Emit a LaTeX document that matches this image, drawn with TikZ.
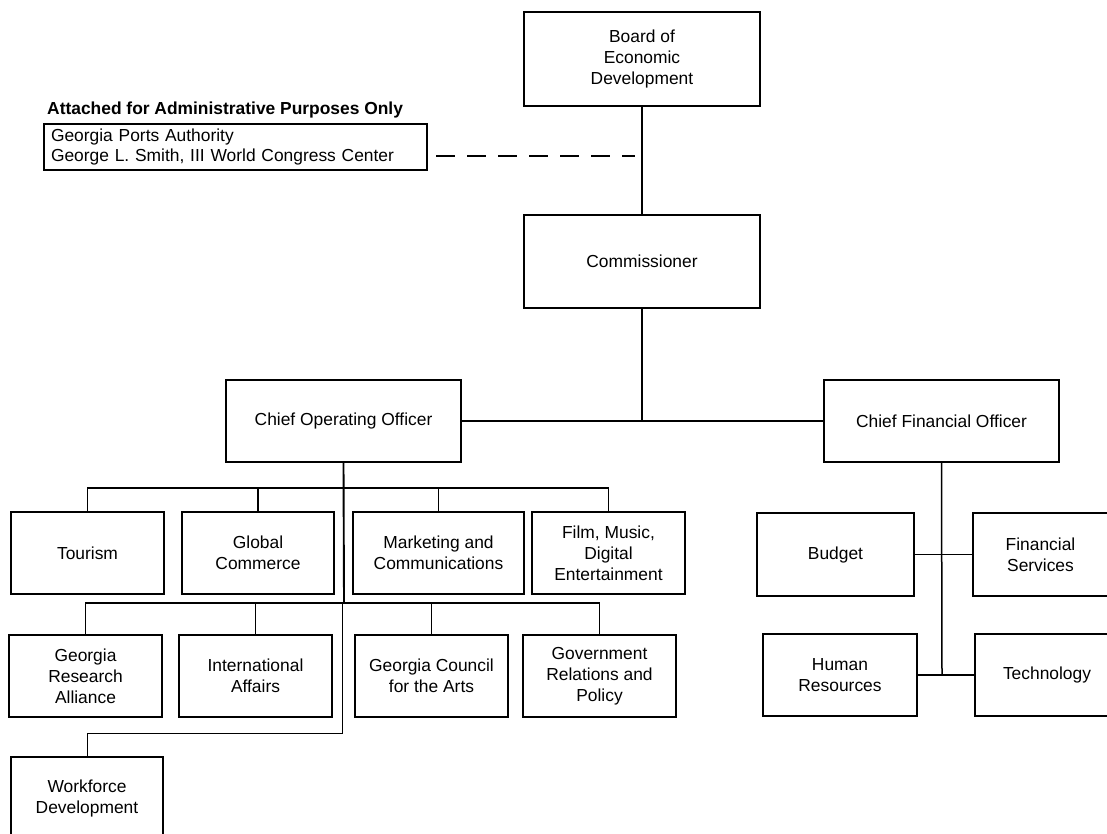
\documentclass[tikz,border=0pt]{standalone}
\usepackage{fontspec}
\setmainfont{Liberation Sans}
\begin{document}
\begin{tikzpicture}[x=1pt,y=-1pt,
  box/.style={draw=black, line width=1.4pt, inner sep=0pt, outer sep=0pt, align=center,
    font=\fontsize{17.4}{21}\selectfont},
  conn/.style={line width=1.2pt, black},
  trunk/.style={line width=1.9pt, black}]
\useasboundingbox (0,0) rectangle (1107,834);
\clip (0,0) rectangle (1107,834);
\fill[white] (0,0) rectangle (1107,834);

% top
\node[box, minimum width=236, minimum height=94] (board) at (642,59) {Board of\\Economic\\Development};
\node[box, minimum width=236, minimum height=93] (comm) at (642,261.5) {Commissioner};
\node[font=\fontsize{17.4}{21}\selectfont\bfseries, anchor=west, inner sep=0pt] (title) at (47,110) {Attached for Administrative Purposes Only};
\node[box, minimum width=383, minimum height=46, align=left, anchor=north west, text width=378, inner sep=0pt] (att) at (44,124) {\hspace*{4.5pt}Georgia Ports Authority\\[-0.5pt]\hspace*{4.5pt}George L. Smith, III World Congress Center};

% officers
\node[box, minimum width=235, minimum height=82] (coo) at (343.5,421) {Chief Operating Officer};
\node[box, minimum width=235, minimum height=82] (cfo) at (941.5,421) {Chief Financial Officer};

% COO row 1
\node[box, minimum width=153, minimum height=82] (tourism) at (87.5,553) {Tourism};
\node[box, minimum width=152, minimum height=82] (global) at (258,553) {Global\\Commerce};
\node[box, minimum width=171, minimum height=82] (market) at (438.5,553) {Marketing and\\Communications};
\node[box, minimum width=153, minimum height=82] (film) at (608.5,553) {Film, Music,\\Digital\\Entertainment};

% COO row 2
\node[box, minimum width=153, minimum height=82] (gra) at (85.5,676) {Georgia\\Research\\Alliance};
\node[box, minimum width=153, minimum height=82] (intl) at (255.5,676) {International\\Affairs};
\node[box, minimum width=153, minimum height=82] (council) at (431.5,676) {Georgia Council\\for the Arts};
\node[box, minimum width=153, minimum height=82] (gov) at (599.5,676) {Government\\Relations and\\Policy};
\node[box, minimum width=152, minimum height=82] (work) at (87,798) {Workforce\\Development};

% CFO units
\node[box, minimum width=157, minimum height=83] (budget) at (835.5,554.5) {Budget};
\node[box, minimum width=135, minimum height=83] (fin) at (1040.5,554.5) {Financial\\Services};
\node[box, minimum width=154, minimum height=82] (hr) at (840,675) {Human\\Resources};
\node[box, minimum width=144, minimum height=82] (tech) at (1047,675) {Technology};

% connectors
\coordinate (ds) at (436,156);
\coordinate (de) at (635,156);
\draw[conn, dash pattern=on 19pt off 12pt] (ds) -- (de);
\draw[conn] (board.south) -- (comm.north);
\coordinate (mid) at (642,421);
\draw[conn] (comm.south) -- (mid);
\draw[conn] (coo.east) -- (cfo.west);

\coordinate (cooend) at (344,603);
\draw[trunk] (coo.south) -- (cooend);
\draw[conn] (tourism.north) -- ++(0,-24) -| (film.north);
\draw[conn] (global.north) -- ++(0,-24);
\draw[conn] (market.north) -- ++(0,-24);
\draw[conn] (gra.north) -- ++(0,-32) -| (gov.north);
\draw[conn] (intl.north) -- ++(0,-32);
\draw[trunk] (council.north) -- ++(0,-32);
\coordinate (wk) at (342,603);
\draw[conn, line width=0.9pt] (wk) -- (342,733) -| (work.north);

\coordinate (cfoend) at (942,675);
\draw[conn, line width=1.5pt] (cfo.south) -- (cfoend);
\draw[conn] (budget.east) -- (fin.west);
\draw[conn] (hr.east) -- (tech.west);
\end{tikzpicture}
\end{document}
